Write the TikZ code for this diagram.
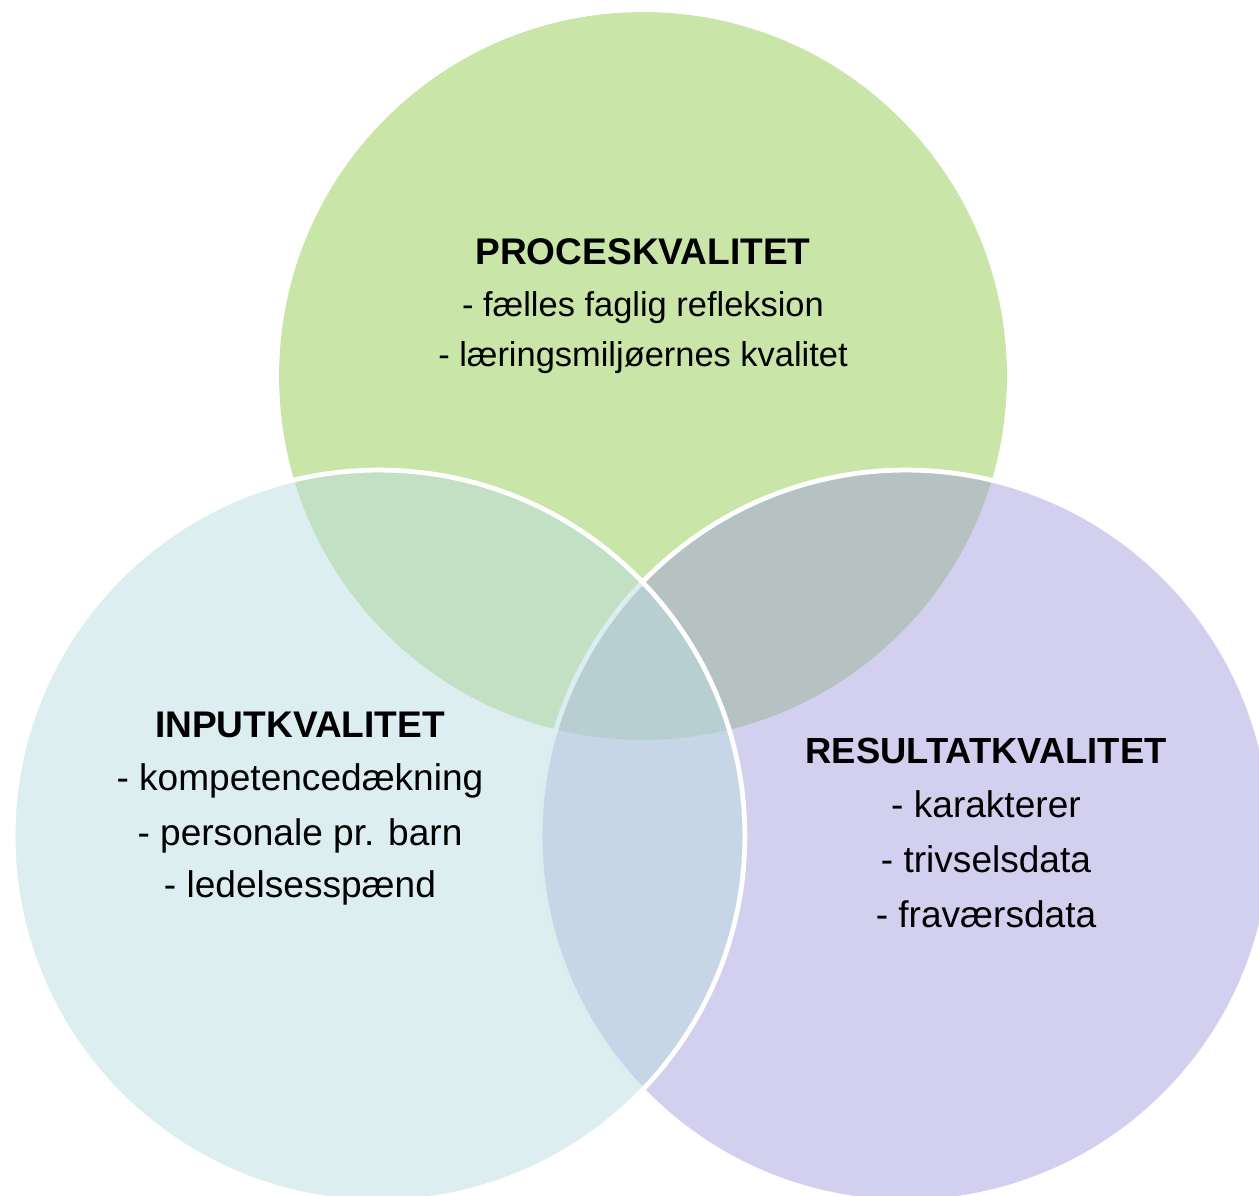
\documentclass[tikz,border=0pt]{standalone}
\usepackage{fontspec}
\setmainfont{Liberation Sans}
\definecolor{procgreen}{HTML}{C9E5A7}
\definecolor{inputblue}{HTML}{BBDDE1}
\definecolor{resviolet}{HTML}{A5A1DD}
\tikzset{
  setcircle/.style={line width=0.095cm, draw=white},
  titletext/.style={inner sep=0pt, anchor=base, text=black, font=\fontsize{21.1}{25}\selectfont\bfseries},
  titleright/.style={inner sep=0pt, anchor=base, text=black, font=\fontsize{20.7}{25}\selectfont\bfseries},
  itemtext/.style={inner sep=0pt, anchor=base, text=black, font=\fontsize{21.1}{25}\selectfont},
  itemsmall/.style={inner sep=0pt, anchor=base, text=black, font=\fontsize{19.6}{23}\selectfont}
}
\begin{document}
\begin{tikzpicture}[x=0.02cm, y=-0.02cm]
\useasboundingbox (0,0) rectangle (1259,1196);
% circles
\fill[procgreen] (643,376) circle [radius=7.28cm];
\path[setcircle, fill=resviolet, fill opacity=0.5] (906,836) circle [radius=7.32cm];
\path[setcircle, fill=inputblue, fill opacity=0.5] (379,836) circle [radius=7.32cm];
% texts
\node[titletext] (ptitle) at (643,265) {PROCESKVALITET};
\node[itemsmall] (p1) at (643,317) {- fælles faglig refleksion};
\node[itemsmall] (p2) at (643,367) {- læringsmiljøernes kvalitet};
\node[titletext] (ititle) at (300,737) {INPUTKVALITET};
\node[itemtext] (i1) at (300,790) {- kompetencedækning};
\node[itemtext] (i2) at (300,845) {- personale pr. barn};
\node[itemtext] (i3) at (300,897) {- ledelsesspænd};
\node[titleright] (rtitle) at (986,763) {RESULTATKVALITET};
\node[itemtext] (r1) at (986,817) {- karakterer};
\node[itemtext] (r2) at (986,872) {- trivselsdata};
\node[itemtext] (r3) at (986,927) {- fraværsdata};
\end{tikzpicture}
\end{document}
